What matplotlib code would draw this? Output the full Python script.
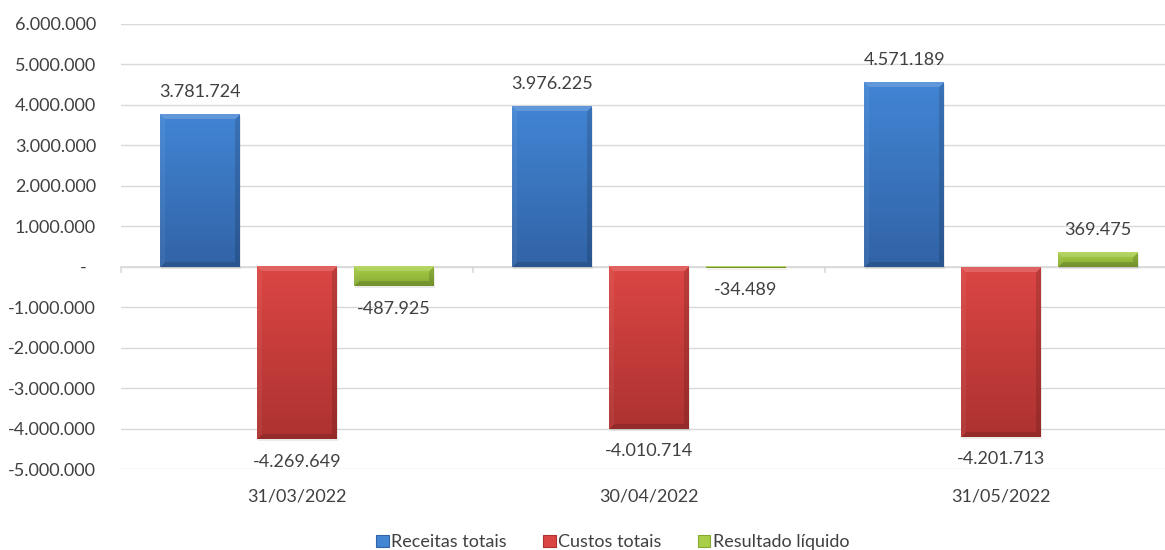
import matplotlib
matplotlib.use("Agg")
import matplotlib.pyplot as plt
import numpy as np
from matplotlib.patches import Patch, Rectangle
from matplotlib.ticker import FuncFormatter, MultipleLocator

# ---------- data ----------
categories = ["31/03/2022", "30/04/2022", "31/05/2022"]
receitas = [3781724, 3976225, 4571189]
custos = [-4269649, -4010714, -4201713]
resultado = [-487925, -34489, 369475]
series_names = ["Receitas totais", "Custos totais", "Resultado líquido"]

# top / bottom colours of the gradient for each series
top_colors = ["#4285d4", "#db4644", "#a8cf46"]
bottom_colors = ["#3163a6", "#ad3230", "#86a834"]

TEXT = "#404040"
GRID = "#d9d9d9"
FS = 13

plt.rcParams["font.family"] = ["Lato", "DejaVu Sans"]


def br_fmt(v, pos=None):
    if abs(v) < 0.5:
        return "-  "
    s = f"{abs(int(round(v))):,}".replace(",", ".")
    return ("-" if v < 0 else "") + s


def _rgb(h):
    h = h.lstrip("#")
    return np.array([int(h[i:i + 2], 16) for i in (0, 2, 4)]) / 255.0


def _bevel_image(w, h, c_top, c_bot, band=5):
    t = np.linspace(0, 1, h)[:, None, None]
    img = c_top[None, None, :] * (1 - t) + c_bot[None, None, :] * t
    img = np.repeat(img, w, axis=1)
    yy, xx = np.mgrid[0:h, 0:w]
    d = np.stack([yy, xx, w - 1 - xx, h - 1 - yy])
    shade = np.array([0.16, 0.05, -0.14, -0.14])
    near = d.argmin(axis=0)
    inside = d.min(axis=0) < band
    adj = np.where(inside, shade[near], 0.0)[:, :, None]
    img = np.where(adj > 0, img + (1 - img) * adj, img * (1 + adj))
    return np.clip(img, 0, 1)


fig = plt.figure(figsize=(11.65, 5.5), dpi=100)
ax = fig.add_axes([121 / 1165, 81 / 550, 1056 / 1165, 445 / 550])

x = np.arange(len(categories))
bw = 0.227
step = 0.275
all_series = [receitas, custos, resultado]

ax.set_xlim(-0.5, len(categories) - 0.5)
ax.set_ylim(-5000000, 6000000)

bars_all = []
for i, vals in enumerate(all_series):
    bars = ax.bar(x + (i - 1) * step, vals, bw, color="none", edgecolor="none", zorder=3)
    bars_all.append(bars)

fig.canvas.draw()
for i, bars in enumerate(bars_all):
    c_top = _rgb(top_colors[i])
    c_bot = _rgb(bottom_colors[i])
    for b, v in zip(bars, all_series[i]):
        x0, y0 = b.get_x(), b.get_y()
        bwid, bh = b.get_width(), b.get_height()
        y_lo, y_hi = min(y0, y0 + bh), max(y0, y0 + bh)
        p0 = ax.transData.transform((x0, y_lo))
        p1 = ax.transData.transform((x0 + bwid, y_hi))
        wpx = max(int(round(p1[0] - p0[0])), 2)
        hpx = max(int(round(p1[1] - p0[1])), 2)
        img = _bevel_image(wpx, hpx, c_top, c_bot)
        # soft shadow
        sh = Rectangle((x0 + 0.003, y_lo - 50000), bwid, y_hi - y_lo, facecolor="#000000",
                       alpha=0.08, edgecolor="none", zorder=2)
        ax.add_patch(sh)
        ax.imshow(img, extent=(x0, x0 + bwid, y_lo, y_hi), origin="upper",
                  aspect="auto", zorder=3, interpolation="bilinear")
        off = 16 if v >= 0 else -16
        ax.annotate(br_fmt(v), (x0 + bwid / 2, v), xytext=(0, off), textcoords="offset points",
                    ha="center", va="center", fontsize=FS, color=TEXT, zorder=5)

ax.set_xlim(-0.5, len(categories) - 0.5)
ax.set_ylim(-5000000, 6000000)

# grid and axes
ax.yaxis.set_major_locator(MultipleLocator(1000000))
ax.yaxis.set_major_formatter(FuncFormatter(br_fmt))
ax.grid(True, axis="y", color=GRID, linewidth=1.0, zorder=0)
ax.set_axisbelow(True)
for s in ax.spines.values():
    s.set_visible(False)
ax.axhline(0, color=GRID, linewidth=1.2, zorder=1)
ax.tick_params(axis="y", length=0, pad=18, labelsize=FS, labelcolor=TEXT)

ax.set_xticks(x)
ax.set_xticklabels(categories)
ax.tick_params(axis="x", length=0, labelsize=FS, labelcolor=TEXT)
for lab in ax.get_xticklabels():
    lab.set_y(-0.033)
for b in np.arange(-0.5, len(categories), 1.0):
    ax.plot([b, b], [0, -120000], color=GRID, linewidth=1.2, zorder=1, clip_on=False)

handles = [Patch(facecolor=top_colors[i], edgecolor=bottom_colors[i], linewidth=0.8)
           for i in range(3)]
leg = fig.legend(handles, series_names, loc="lower center", bbox_to_anchor=(0.526, -0.03),
                 ncol=3, frameon=False, fontsize=FS, handlelength=0.7, handleheight=0.7,
                 handletextpad=0.15, columnspacing=2.0)
for t in leg.get_texts():
    t.set_color(TEXT)

fig.savefig("out.png", dpi=100)
